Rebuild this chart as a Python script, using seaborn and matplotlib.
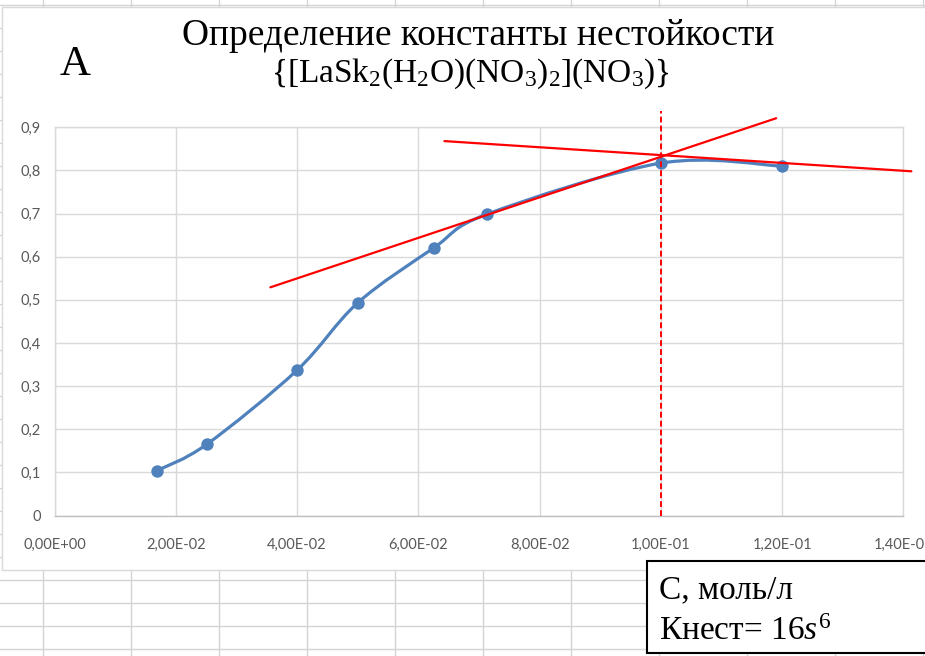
import numpy as np
import matplotlib
matplotlib.use("Agg")
import matplotlib.pyplot as plt
import seaborn as sns
from matplotlib.path import Path
from matplotlib.patches import PathPatch, Rectangle
from matplotlib.lines import Line2D

# ---------------- data ----------------
concentration = [0.0169, 0.0251, 0.0400, 0.0500, 0.0625, 0.0714, 0.1000, 0.1200]
absorbance = [0.104, 0.165, 0.337, 0.493, 0.620, 0.699, 0.817, 0.810]

tangent_low_x = [0.0356, 0.1190]
tangent_low_y = [0.529, 0.921]
tangent_high_x = [0.0643, 0.1413]
tangent_high_y = [0.868, 0.798]
cross_x = [0.100, 0.100]
cross_y = [0.0, 0.937]

x_ticks = [0.00, 0.02, 0.04, 0.06, 0.08, 0.10, 0.12, 0.14]
x_tick_labels = ["0,00E+00", "2,00E-02", "4,00E-02", "6,00E-02",
                 "8,00E-02", "1,00E-01", "1,20E-01", "1,40E-01"]
y_ticks = [0.0, 0.1, 0.2, 0.3, 0.4, 0.5, 0.6, 0.7, 0.8, 0.9]
y_tick_labels = ["0", "0,1", "0,2", "0,3", "0,4", "0,5", "0,6", "0,7", "0,8", "0,9"]

title_line1 = "Определение константы нестойкости"
title_line2 = "{[LaSk$_2$(H$_2$O)(NO$_3$)$_2$](NO$_3$)}"
panel_letter = "A"
box_line1 = "С, моль/л"
box_line2 = r"Кнест= $16\mathit{s}^{6}$"

# ---------------- style ----------------
sns.set_theme(style="white")
plt.rcParams["font.family"] = ["Liberation Serif", "DejaVu Sans"]
plt.rcParams["mathtext.fontset"] = "custom"
plt.rcParams["mathtext.rm"] = "Liberation Serif"
plt.rcParams["mathtext.it"] = "Liberation Serif:italic"
plt.rcParams["mathtext.default"] = "rm"

BLUE = "#4f81bd"
RED = "#ff0000"
GRID = "#d9d9d9"
SHEET = "#d4d4d4"

W, H = 925, 656
fig = plt.figure(figsize=(W / 100, H / 100), dpi=100)
fig.patch.set_facecolor("white")


def fx(px):
    return px / W


def fy(py):
    return 1 - py / H


# spreadsheet grid behind the chart
for xc in np.arange(42.5, W, 88):
    fig.add_artist(Line2D([fx(xc), fx(xc)], [0, 1], color=SHEET, lw=1,
                          transform=fig.transFigure, zorder=-3))
for yr in np.arange(4.7, H, 23):
    fig.add_artist(Line2D([0, 1], [fy(yr), fy(yr)], color=SHEET, lw=1,
                          transform=fig.transFigure, zorder=-3))

# chart area
fig.add_artist(Rectangle((fx(2), fy(570)), fx(940) - fx(2), fy(7) - fy(570),
                         facecolor="white", edgecolor=GRID, lw=1,
                         transform=fig.transFigure, zorder=-2))

# plot area
x0, x1 = 54.5, 903.5
y0, y1 = 515.5, 127.3
ax = fig.add_axes([fx(x0), fy(y0), (x1 - x0) / W, (y0 - y1) / H])
ax.set_zorder(1)
ax.set_facecolor("none")
ax.set_xlim(0, 0.14)
ax.set_ylim(0, 0.9)
ax.set_xticks(x_ticks)
ax.set_xticklabels(x_tick_labels)
ax.set_yticks(y_ticks)
ax.set_yticklabels(y_tick_labels)
ax.grid(True, color=GRID, lw=1)
ax.set_axisbelow(True)
for side in ["top", "right", "left"]:
    ax.spines[side].set_color(GRID)
    ax.spines[side].set_linewidth(1)
ax.spines["bottom"].set_color("#bfbfbf")
ax.spines["bottom"].set_linewidth(1)
ax.tick_params(axis="both", length=0, labelcolor="#595959", labelsize=10.5)
ax.tick_params(axis="x", pad=16)
ax.tick_params(axis="y", pad=10)
for lab in ax.get_xticklabels() + ax.get_yticklabels():
    lab.set_fontfamily("Lato")

# smoothed series line (Excel-style Bezier smoothing through the points)
pts = np.column_stack([concentration, absorbance])
n = len(pts)
verts = [pts[0]]
codes = [Path.MOVETO]
for i in range(n - 1):
    p0 = pts[i - 1] if i > 0 else pts[i]
    p1 = pts[i]
    p2 = pts[i + 1]
    p3 = pts[i + 2] if i + 2 < n else pts[i + 1]
    c1 = p1 + (p2 - p0) / 6.0
    c2 = p2 - (p3 - p1) / 6.0
    verts += [c1, c2, p2]
    codes += [Path.CURVE4] * 3
ax.add_patch(PathPatch(Path(verts, codes), fill=False, edgecolor=BLUE,
                       lw=2.3, capstyle="round", joinstyle="round", zorder=3))

sns.scatterplot(x=concentration, y=absorbance, ax=ax, s=80, color=BLUE,
                edgecolor=BLUE, linewidth=0, zorder=4, legend=False)

# tangent construction
ax.plot(tangent_low_x, tangent_low_y, color=RED, lw=1.6, clip_on=False, zorder=5)
ax.plot(tangent_high_x, tangent_high_y, color=RED, lw=1.6, clip_on=False, zorder=5)
ax.plot(cross_x, cross_y, color=RED, lw=1.4, ls=(0, (3, 1.6)), clip_on=False, zorder=5)

# titles
fig.text(fx(478), fy(45), title_line1, ha="center", va="baseline", fontsize=27,
         color="black")
fig.text(fx(470), fy(82), title_line2, ha="center", va="baseline", fontsize=24,
         color="black")
fig.text(fx(60), fy(75), panel_letter, ha="left", va="baseline", fontsize=31,
         color="black")

# text box
fig.add_artist(Rectangle((fx(647), fy(653)), fx(940) - fx(647), fy(561) - fy(653),
                         facecolor="white", edgecolor="black", lw=1.5,
                         transform=fig.transFigure, zorder=6))
fig.text(fx(659), fy(598), box_line1, ha="left", va="baseline", fontsize=24,
         color="black", zorder=7)
fig.text(fx(659), fy(640), box_line2, ha="left", va="baseline", fontsize=24,
         color="black", zorder=7)

fig.savefig("out.png", dpi=100, facecolor="white")
